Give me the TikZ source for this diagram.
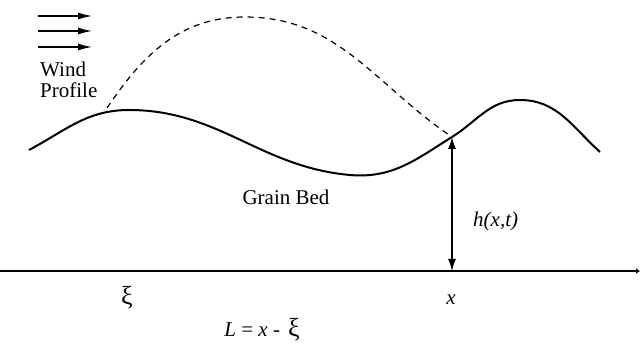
\documentclass[tikz,border=0pt]{standalone}
\usepackage{fontspec}
\setmainfont{Liberation Serif}
\usetikzlibrary{arrows.meta}

\tikzset{
  windarrow/.style={line width=1.3pt, -{Latex[length=14pt,width=7pt]}},
  bed/.style={line width=2pt},
  profile/.style={line width=1.2pt, dash pattern=on 6pt off 5pt},
  heightarrow/.style={line width=1.4pt, {Latex[length=12pt,width=8pt]}-{Latex[length=12pt,width=8pt]}},
  txt/.style={font=\fontsize{21}{22}\selectfont, inner sep=0pt}
}
\newcommand{\bigxi}{{\fontsize{26}{26}\selectfont ξ}}

\begin{document}
\begin{tikzpicture}[x=1pt, y=1pt]
    \useasboundingbox (0,0) rectangle (640,345);

    % wind arrows
    \coordinate (W1a) at (38, 329);
    \coordinate (W1b) at (92, 329);
    \coordinate (W2a) at (38, 314);
    \coordinate (W2b) at (92, 314);
    \coordinate (W3a) at (38, 298);
    \coordinate (W3b) at (92, 298);

    \draw[windarrow] (W1a) -- (W1b);
    \draw[windarrow] (W2a) -- (W2b);
    \draw[windarrow] (W3a) -- (W3b);

    % bed surface
    \coordinate (S) at (29, 195);
    \coordinate (P) at (129, 235);
    \coordinate (T) at (350, 170);
    \coordinate (X) at (452, 208);
    \coordinate (Q) at (520, 245);
    \coordinate (E) at (600, 193);

    \draw[bed] (S) to[out=28, in=180] (P)
                   to[out=0, in=175] (T)
                   to[out=-5, in=212] (X)
                   to[out=32, in=180] (Q)
                   to[out=0, in=138] (E);

    % wind profile
    \coordinate (F) at (107, 237);
    \coordinate (M) at (245, 328);

    \draw[profile] (F) to[out=56, in=180] (M)
                       to[out=0, in=146] (X);

    % ground line
    \coordinate (G0) at (0, 74);
    \coordinate (G1) at (640, 74);
    \coordinate (H) at (452, 74);

    \draw[line width=2pt, -{Latex[length=4pt,width=6pt]}] (G0) -- (G1);
    \draw[heightarrow] (X) -- (H);

    \node[txt, anchor=base west] (wind) at (40, 268) {Wind};
    \node[txt, anchor=base west] (prof) at (40, 247) {Profile};
    \node[txt] (grain) at (286, 148) {Grain Bed};
    \node[txt, anchor=base west] (height) at (473, 118) {\itshape h(x,t)};
    \node[txt, anchor=base] (xi) at (127, 40) {\bigxi};
    \node[txt, anchor=base] (xpos) at (451, 40) {\itshape x};
    \node[txt, anchor=base] (length) at (262, 8)
      {\textit{L} = \textit{x} -\hspace{8pt}\bigxi};
  \end{tikzpicture}
\end{document}
